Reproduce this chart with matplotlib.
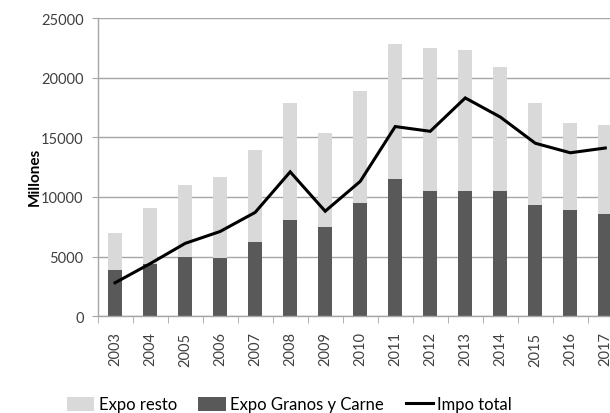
import matplotlib
matplotlib.use("Agg")
import matplotlib.pyplot as plt
import numpy as np
from matplotlib.patches import Patch
from matplotlib.lines import Line2D

years = ["2003", "2004", "2005", "2006", "2007", "2008", "2009", "2010",
         "2011", "2012", "2013", "2014", "2015", "2016", "2017"]
# Exports of grains and meat (millions)
expo_granos_carne = [3900, 4400, 5000, 4900, 6200, 8100, 7500, 9500,
                     11500, 10500, 10500, 10500, 9300, 8900, 8600]
# Total exports (stack top), millions
expo_total = [7000, 9100, 11000, 11700, 13900, 17900, 15400, 18900,
              22800, 22500, 22300, 20900, 17900, 16200, 16000]
# Total imports (millions)
impo_total = [2800, 4400, 6100, 7100, 8700, 12100, 8800, 11300,
              15900, 15500, 18300, 16700, 14500, 13700, 14100]

expo_resto = [t - g for t, g in zip(expo_total, expo_granos_carne)]

plt.rcParams['font.family'] = ['Lato', 'DejaVu Sans']

fig = plt.figure(figsize=(6.10, 4.14), dpi=100)
ax = fig.add_axes([0.160, 0.234, 0.861, 0.720])

x = np.arange(len(years))
light = "#d9d9d9"
dark = "#595959"
grid_c = "#a6a6a6"

ax.bar(x, expo_granos_carne, width=0.4, color=dark, zorder=2)
ax.bar(x, expo_resto, width=0.4, bottom=expo_granos_carne, color=light, zorder=2)
ax.plot(x, impo_total, color="black", lw=2.2, zorder=3, solid_joinstyle="miter")

ax.set_xlim(-0.5, len(years) - 0.5)
ax.set_ylim(0, 25000)
ax.set_yticks(np.arange(0, 25001, 5000))
ax.tick_params(axis="y", length=4, color=grid_c, labelsize=10.5, labelcolor="#404040", pad=6)
ax.yaxis.grid(True, color=grid_c, lw=1.0, zorder=0)
ax.set_axisbelow(True)

ax.set_xticks(x)
ax.set_xticklabels(years, rotation=90, fontsize=10.5, color="#404040")
ax.tick_params(axis="x", which="major", length=0, pad=11)
ax.set_xticks(np.arange(-0.5, len(years), 1.0), minor=True)
ax.tick_params(axis="x", which="minor", length=5, color=grid_c)

for side in ("top", "right"):
    ax.spines[side].set_visible(False)
for side in ("left", "bottom"):
    ax.spines[side].set_color(grid_c)
    ax.spines[side].set_linewidth(1.0)

ax.set_ylabel("Millones", fontsize=11, fontweight="bold", color="black", labelpad=5)
ax.yaxis.set_label_coords(-0.107, 0.47)

handles = [
    Patch(facecolor=light, edgecolor="none", label="Expo resto"),
    Patch(facecolor=dark, edgecolor="none", label="Expo Granos y Carne"),
    Line2D([0], [0], color="black", lw=2.2, label="Impo total"),
]
fig.legend(handles=handles, loc="lower left", bbox_to_anchor=(0.085, -0.035),
           ncol=3, frameon=False, fontsize=12, handlelength=1.65,
           handleheight=0.9, handletextpad=0.25, columnspacing=1.3)

fig.savefig("out.png", dpi=100)
